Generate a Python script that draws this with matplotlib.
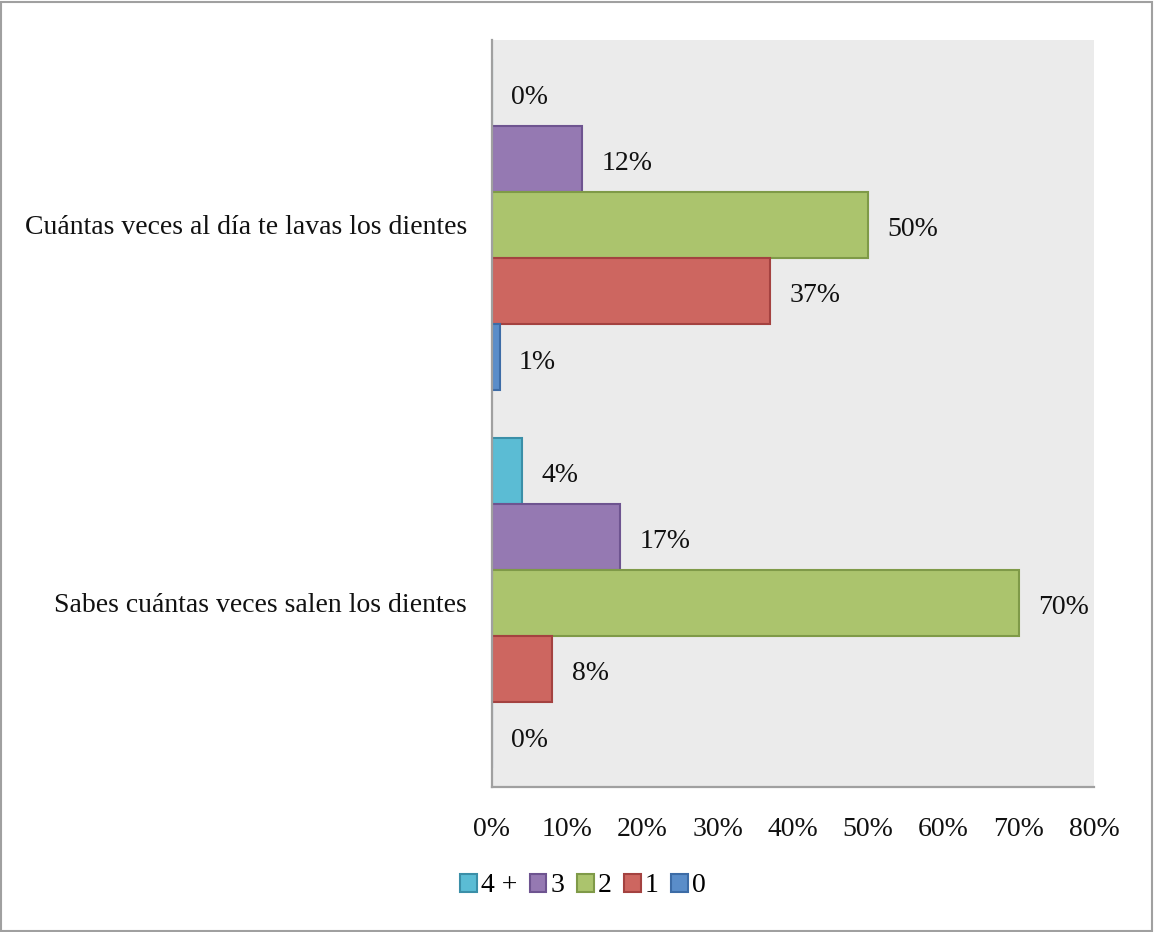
import numpy as np
import matplotlib.pyplot as plt
from matplotlib.patches import Rectangle, Patch

plt.rcParams['font.family'] = ['Liberation Serif', 'DejaVu Serif']

# data
questions = ["Sabes cuántas veces salen los dientes",
             "Cuántas veces al día te lavas los dientes"]
series = ["4 +", "3", "2", "1", "0"]
values = {
    "4 +": [4, 0],
    "3": [17, 12],
    "2": [70, 50],
    "1": [8, 37],
    "0": [0, 1],
}
x_ticks = [0, 10, 20, 30, 40, 50, 60, 70, 80]

fills = ["#5bbcd4", "#9579b2", "#abc46d", "#cd6660", "#5a8dc9"]
edges = ["#3b8fa8", "#6e5490", "#7f9a48", "#a44240", "#3d6ca6"]
fs = 20

fig = plt.figure(figsize=(11.54, 9.32), dpi=100)
ax = fig.add_axes([492 / 1154, 1 - 787 / 932, 602 / 1154, 747 / 932])
ax.set_facecolor("#ebebeb")

bar_h = 0.175
y = np.arange(len(questions))
for i, s in enumerate(series):
    offset = (2 - i) * bar_h
    bars = ax.barh(y + offset, values[s], height=bar_h, color=fills[i],
                   edgecolor=edges[i], linewidth=1.5, label=s, zorder=2)
    for rect, v in zip(bars, values[s]):
        ax.annotate(f"{v}%", (v, rect.get_y() + rect.get_height() / 2),
                    xytext=(14, -3.5), textcoords="offset points",
                    va="center", ha="left", fontsize=fs, color="#111111")

ax.set_xlim(0, 80)
ax.set_ylim(-0.487, 1.489)
ax.set_xticks(x_ticks)
ax.set_xticklabels([f"{t}%" for t in x_ticks])
ax.set_yticks(y)
ax.set_yticklabels(questions)
ax.tick_params(axis="both", length=0, labelsize=fs, colors="#111111")
ax.tick_params(axis="x", pad=21.5)
ax.tick_params(axis="y", pad=18)

for side in ["top", "right"]:
    ax.spines[side].set_visible(False)
for side in ["left", "bottom"]:
    ax.spines[side].set_color("#a0a0a0")
    ax.spines[side].set_linewidth(1.6)

handles = [Patch(facecolor=fills[i], edgecolor=edges[i], linewidth=1.5, label=s)
           for i, s in enumerate(series)]
fig.legend(handles=handles, loc="center", bbox_to_anchor=(583 / 1154, 1 - 886 / 932),
           ncol=5, frameon=False, fontsize=fs, handlelength=0.6, handleheight=0.6,
           handletextpad=0.15, columnspacing=0.45)

fig.patches.append(Rectangle((0.001, 0.001), 0.997, 0.997, transform=fig.transFigure,
                             fill=False, edgecolor="#a0a0a0", linewidth=1.5))

fig.savefig("out.png", dpi=100)
